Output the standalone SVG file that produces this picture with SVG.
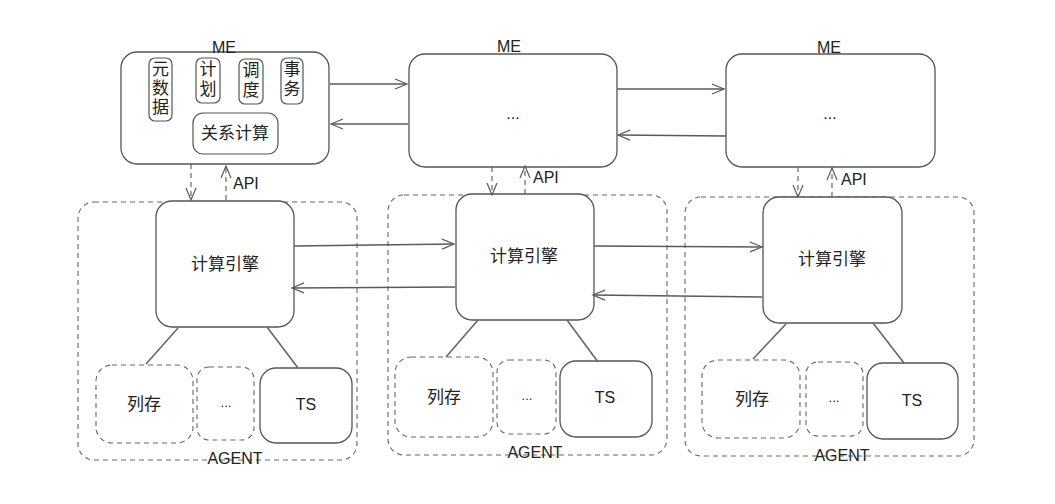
<svg xmlns="http://www.w3.org/2000/svg" width="1055" height="504" viewBox="0 0 1055 504">
<style>
.box{fill:#fff;stroke:#555;stroke-width:1.3}
.dbox{fill:none;stroke:#666;stroke-width:1.1;stroke-dasharray:5 4}
.pill{fill:#fff;stroke:#555;stroke-width:1.2}
.t{font-family:"Liberation Sans","Noto Sans CJK SC",sans-serif;font-size:16px;fill:#222;text-anchor:middle;dominant-baseline:central}
.cj{font-size:17px}
.lbl{font-family:"Liberation Sans","Noto Sans CJK SC",sans-serif;font-size:16px;fill:#222;dominant-baseline:central}
.c{fill:none;stroke:#5a5a5a;stroke-width:1.3}
.dc{fill:none;stroke:#5a5a5a;stroke-width:1.1;stroke-dasharray:5 4}
.ln{fill:none;stroke:#666;stroke-width:1.6}
</style>
<defs>
<marker id="ah" markerUnits="userSpaceOnUse" markerWidth="16" markerHeight="14" refX="13" refY="6" orient="auto">
<path d="M1,1 L13,6 L1,11" fill="none" stroke="#5a5a5a" stroke-width="1.2"/>
</marker>
</defs>

<g id="agent1">
<rect class="dbox" x="78" y="202" width="279" height="258" rx="16"/>
<text class="t" x="235" y="458">AGENT</text>
</g>
<g id="agent2">
<rect class="dbox" x="388" y="195" width="279" height="260" rx="16"/>
<text class="t" x="535" y="452">AGENT</text>
</g>
<g id="agent3">
<rect class="dbox" x="685" y="197" width="289" height="259" rx="16"/>
<text class="t" x="842" y="455">AGENT</text>
</g>

<g id="me1">
<rect class="box" x="121" y="52" width="208" height="112" rx="16"/>
<text class="t" x="224" y="47">ME</text>
</g>
<g id="meta">
<rect class="pill" x="149" y="58" width="23" height="63" rx="6"/>
<text class="t cj" x="160.5" y="69">元</text>
<text class="t cj" x="160.5" y="88">数</text>
<text class="t cj" x="160.5" y="107">据</text>
</g>
<g id="plan">
<rect class="pill" x="196" y="58" width="24" height="45" rx="6"/>
<text class="t cj" x="208" y="69">计</text>
<text class="t cj" x="208" y="89">划</text>
</g>
<g id="sched">
<rect class="pill" x="239" y="59" width="24" height="45" rx="6"/>
<text class="t cj" x="251" y="70">调</text>
<text class="t cj" x="251" y="90">度</text>
</g>
<g id="txn">
<rect class="pill" x="281" y="58" width="22" height="46" rx="6"/>
<text class="t cj" x="292" y="69">事</text>
<text class="t cj" x="292" y="89">务</text>
</g>
<g id="relcalc">
<rect class="pill" x="193" y="113" width="85" height="41" rx="10"/>
<text class="t cj" x="235" y="133">关系计算</text>
</g>

<g id="me2">
<rect class="box" x="409" y="54" width="208" height="113" rx="16"/>
<text class="t" x="509" y="46">ME</text>
<text class="t" x="513" y="113">...</text>
</g>
<g id="me3">
<rect class="box" x="726" y="54" width="209" height="113" rx="16"/>
<text class="t" x="829" y="47">ME</text>
<text class="t" x="830" y="113">...</text>
</g>

<g id="engine1">
<rect class="box" x="156" y="201" width="138" height="126" rx="16"/>
<text class="t cj" x="225" y="264">计算引擎</text>
</g>
<g id="engine2">
<rect class="box" x="456" y="194" width="138" height="126" rx="16"/>
<text class="t cj" x="524" y="256">计算引擎</text>
</g>
<g id="engine3">
<rect class="box" x="763" y="197" width="139" height="126" rx="16"/>
<text class="t cj" x="832" y="259">计算引擎</text>
</g>

<g id="col1">
<rect class="dbox" x="96" y="365" width="97" height="78" rx="16"/>
<text class="t cj" x="144" y="404">列存</text>
</g>
<g id="etc1">
<rect class="dbox" x="197" y="367" width="57" height="73" rx="12"/>
<text class="t" x="226" y="402" style="font-size:13px">...</text>
</g>
<g id="ts1">
<rect class="box" x="260" y="368" width="92" height="75" rx="16"/>
<text class="t" x="306" y="404">TS</text>
</g>

<g id="col2">
<rect class="dbox" x="395" y="357" width="98" height="80" rx="16"/>
<text class="t cj" x="444" y="397">列存</text>
</g>
<g id="etc2">
<rect class="dbox" x="497" y="360" width="59" height="74" rx="12"/>
<text class="t" x="527" y="395" style="font-size:13px">...</text>
</g>
<g id="ts2">
<rect class="box" x="560" y="361" width="92" height="76" rx="16"/>
<text class="t" x="605" y="397">TS</text>
</g>

<g id="col3">
<rect class="dbox" x="702" y="360" width="98" height="78" rx="16"/>
<text class="t cj" x="752" y="399">列存</text>
</g>
<g id="etc3">
<rect class="dbox" x="806" y="362" width="57" height="74" rx="12"/>
<text class="t" x="834" y="397" style="font-size:13px">...</text>
</g>
<g id="ts3">
<rect class="box" x="867" y="363" width="91" height="76" rx="16"/>
<text class="t" x="912" y="400">TS</text>
</g>

<g id="connectors">
<line class="c" x1="330" y1="84" x2="407" y2="84" marker-end="url(#ah)"/>
<line class="c" x1="408" y1="124" x2="331" y2="124" marker-end="url(#ah)"/>
<line class="c" x1="617" y1="89" x2="724" y2="89" marker-end="url(#ah)"/>
<line class="c" x1="726" y1="136" x2="618" y2="135" marker-end="url(#ah)"/>

<line class="c" x1="294" y1="246" x2="454" y2="244" marker-end="url(#ah)"/>
<line class="c" x1="455" y1="287" x2="292" y2="288" marker-end="url(#ah)"/>
<line class="c" x1="594" y1="246" x2="762" y2="247" marker-end="url(#ah)"/>
<line class="c" x1="762" y1="297" x2="593" y2="295" marker-end="url(#ah)"/>

<line class="dc" x1="191" y1="164" x2="191" y2="200" marker-end="url(#ah)"/>
<line class="dc" x1="226" y1="200" x2="226" y2="166" marker-end="url(#ah)"/>
<line class="dc" x1="492" y1="167" x2="492" y2="195" marker-end="url(#ah)"/>
<line class="dc" x1="525" y1="194" x2="525" y2="166" marker-end="url(#ah)"/>
<line class="dc" x1="798" y1="167" x2="798" y2="197" marker-end="url(#ah)"/>
<line class="dc" x1="832" y1="197" x2="832" y2="168" marker-end="url(#ah)"/>

<line class="ln" x1="178" y1="328" x2="146" y2="364"/>
<line class="ln" x1="267" y1="327" x2="298" y2="368"/>
<line class="ln" x1="478" y1="320" x2="446" y2="357"/>
<line class="ln" x1="567" y1="320" x2="598" y2="362"/>
<line class="ln" x1="786" y1="324" x2="753" y2="359"/>
<line class="ln" x1="873" y1="323" x2="904" y2="363"/>
</g>

<g id="labels">
<text class="lbl" x="233" y="183">API</text>
<text class="lbl" x="533" y="177">API</text>
<text class="lbl" x="841" y="179">API</text>
</g>
</svg>
